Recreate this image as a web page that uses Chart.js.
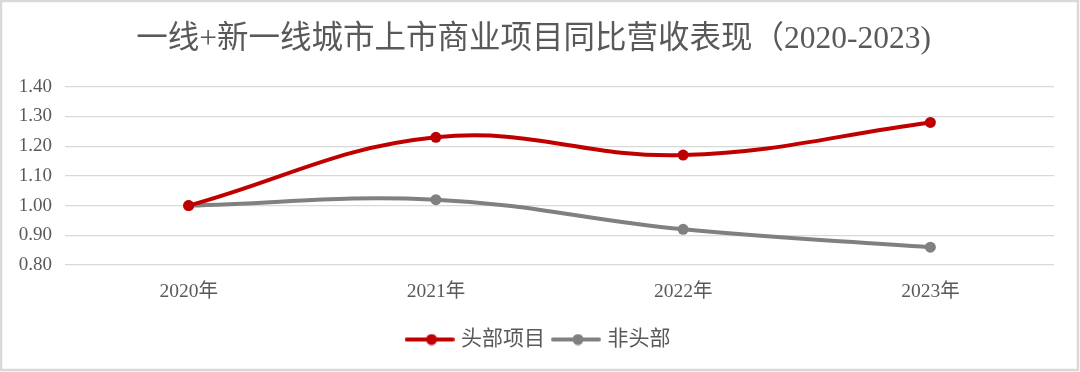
<!DOCTYPE html>
<html>
<head>
<meta charset="utf-8">
<script src="https://cdn.jsdelivr.net/npm/chart.js@4.4.0/dist/chart.umd.min.js"></script>
<style>
  html, body { margin: 0; padding: 0; background: #ffffff; }
  #wrap { width: 1080px; height: 372px; position: relative; }
</style>
</head>
<body>
<div id="wrap"><canvas id="c" width="1080" height="372"></canvas></div>
<script>
const titleText = '一线+新一线城市上市商业项目同比营收表现（2020-2023)';
const categories = ['2020年', '2021年', '2022年', '2023年'];
const headLabel = '头部项目';
const headValues = [1.00, 1.23, 1.17, 1.28];
const otherLabel = '非头部';
const otherValues = [1.00, 1.02, 0.92, 0.86];
const yMin = 0.8;
const yMax = 1.4;
const yStep = 0.1;

const FONT = '"Liberation Serif", "Noto Sans CJK SC", serif';
const TEXT = '#595959';
const RED = '#C00000';
const GREY = '#808080';

function legendIcon(color) {
  const cv = document.createElement('canvas');
  cv.width = 50; cv.height = 12;
  const g = cv.getContext('2d');
  g.strokeStyle = color; g.lineWidth = 4; g.lineCap = 'round';
  g.beginPath(); g.moveTo(2, 6); g.lineTo(48, 6); g.stroke();
  g.fillStyle = color;
  g.beginPath(); g.arc(27, 6, 5.5, 0, Math.PI * 2); g.fill();
  return cv;
}

const frame = {
  id: 'frame',
  beforeDraw(chart) {
    const ctx = chart.ctx;
    ctx.save();
    ctx.fillStyle = '#ffffff';
    ctx.fillRect(0, 0, chart.width, chart.height);
    ctx.strokeStyle = '#d9d9d9';
    ctx.lineWidth = 2.5;
    ctx.strokeRect(1, 1, 1077, 369);
    ctx.restore();
  }
};

const legendShift = {
  id: 'legendShift',
  afterLayout(chart) {
    if (chart.legend) {
      chart.legend.left += 6;
      chart.legend.right += 6;
    }
  }
};

new Chart(document.getElementById('c'), {
  type: 'line',
  data: {
    labels: categories,
    datasets: [
      {
        label: headLabel,
        data: headValues,
        borderColor: RED,
        backgroundColor: RED,
        borderWidth: 4,
        pointRadius: 5.5,
        pointBorderWidth: 0,
        pointBackgroundColor: RED,
        pointStyle: 'circle',
        tension: 0.4,
        legendIcon: legendIcon(RED)
      },
      {
        label: otherLabel,
        data: otherValues,
        borderColor: GREY,
        backgroundColor: GREY,
        borderWidth: 4,
        pointRadius: 5.5,
        pointBorderWidth: 0,
        pointBackgroundColor: GREY,
        pointStyle: 'circle',
        tension: 0.4,
        legendIcon: legendIcon(GREY)
      }
    ]
  },
  options: {
    responsive: false,
    animation: false,
    devicePixelRatio: 1,
    layout: { padding: { left: 13, right: 26, top: 0, bottom: 12 } },
    plugins: {
      tooltip: { enabled: false },
      title: {
        display: true,
        text: titleText,
        color: TEXT,
        font: { family: FONT, size: 31.5, weight: 'normal' },
        padding: { top: 21, bottom: 28 }
      },
      legend: {
        display: true,
        position: 'bottom',
        labels: {
          color: TEXT,
          font: { family: FONT, size: 21 },
          usePointStyle: true,
          pointStyleWidth: 42,
          boxHeight: 12,
          padding: 10,
          generateLabels(chart) {
            return chart.data.datasets.map((ds, i) => ({
              text: ds.label,
              fillStyle: ds.borderColor,
              strokeStyle: ds.borderColor,
              fontColor: TEXT,
              lineWidth: 0,
              pointStyle: ds.legendIcon,
              hidden: false,
              datasetIndex: i
            }));
          }
        }
      }
    },
    scales: {
      x: {
        offset: true,
        grid: { display: false, drawTicks: false },
        border: { display: false },
        ticks: { color: TEXT, font: { family: FONT, size: 19.5 }, padding: 15, maxRotation: 0 },
        afterFit(scale) { scale.height = 54; }
      },
      y: {
        min: yMin,
        max: yMax,
        grid: { color: '#d9d9d9', lineWidth: 1.3, drawTicks: false },
        border: { display: false },
        ticks: {
          stepSize: yStep,
          color: TEXT,
          font: { family: FONT, size: 19 },
          padding: 13,
          callback: (v) => Number(v).toFixed(2)
        },
        afterFit(scale) { scale.width = 52; }
      }
    }
  },
  plugins: [frame, legendShift]
});
</script>
</body>
</html>
